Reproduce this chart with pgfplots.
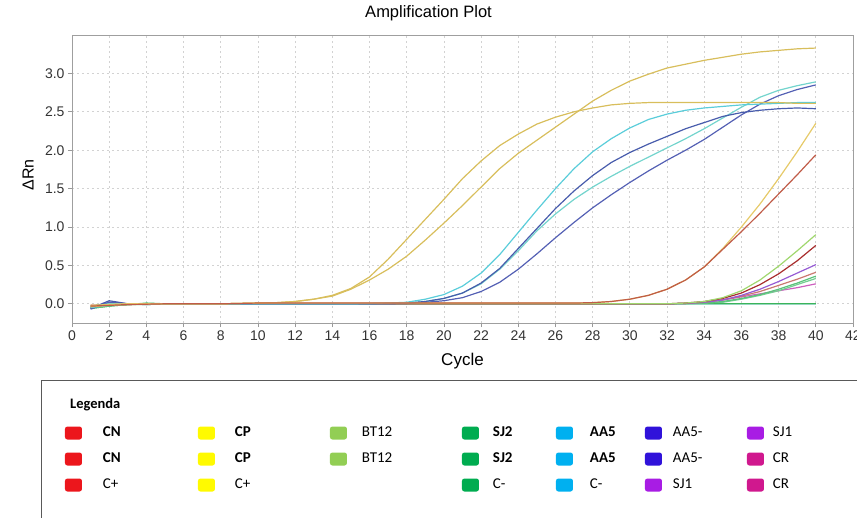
\documentclass[border=0pt]{standalone}
\usepackage{fontspec}
\setmainfont{Liberation Sans}
\newfontfamily\carlito{Carlito}
\usepackage{pgfplots}
\usepackage{pgfplotstable}
\pgfplotsset{compat=1.18}

\definecolor{cpgold}{RGB}{216,190,92}
\definecolor{lgold}{RGB}{230,202,105}
\definecolor{lred}{RGB}{192,92,72}
\definecolor{cyA}{RGB}{90,205,218}
\definecolor{cyB}{RGB}{115,212,205}
\definecolor{dbA}{RGB}{72,92,172}
\definecolor{dbB}{RGB}{84,96,180}
\definecolor{btc}{RGB}{160,215,110}
\definecolor{cnc}{RGB}{168,45,45}
\definecolor{sjoc}{RGB}{150,92,212}
\definecolor{crAc}{RGB}{202,120,112}
\definecolor{sjAc}{RGB}{90,195,122}
\definecolor{sjBc}{RGB}{115,205,145}
\definecolor{crBc}{RGB}{205,95,190}
\definecolor{cgc}{RGB}{60,180,90}
\definecolor{ccc}{RGB}{100,200,232}
% legend colours
\definecolor{LGred}{RGB}{236,22,28}
\definecolor{LGyel}{RGB}{255,250,0}
\definecolor{LGbt}{RGB}{146,206,84}
\definecolor{LGsj}{RGB}{0,172,80}
\definecolor{LGaa}{RGB}{0,176,240}
\definecolor{LGam}{RGB}{48,18,218}
\definecolor{LGsjo}{RGB}{168,28,228}
\definecolor{LGcr}{RGB}{208,24,142}

\pgfplotstableread{
c cpA cpB aA aB amA amB lg lr bt cn sjo crA sjA sjB crB cg cc
1 -0.03 -0.04 -0.05 -0.03 -0.06 -0.07 -0.02 -0.03 -0.03 -0.02 -0.05 -0.04 -0.06 -0.05 -0.04 -0.06 -0.05
2 -0.01 -0.02 -0.02 0.00 0.04 0.02 -0.01 -0.02 0.00 -0.01 0.02 0.00 -0.03 -0.02 0.01 -0.03 -0.01
3 0.00 -0.01 -0.01 0.00 0.00 0.00 0.00 -0.01 0.00 -0.01 0.00 -0.01 -0.01 -0.01 0.00 -0.01 0.00
4 0 0 0 0 -0.01 0 0 -0.005 0 0 0 0 0.01 0.005 0 -0.01 0
5 0 0 0 0 0 0 0 0 0 0 0 0 0 0 0 0 0
6 0 0 0 0 0 0 0 0 0 0 0 0 0 0 0 0 0
7 0 0 0 0 0 0 0 0 0 0 0 0 0 0 0 0 0
8 0 0 0 0 0 0 0 0 0 0 0 0 0 0 0 0 0
9 0.005 0.005 0 0 0 0 0.005 0.005 0 0 0 0 0 0 0 0 0
10 0.01 0.01 0 0 0 0 0.01 0.01 0 0 0 0 0 0 0 0 0
11 0.015 0.015 0 0 0 0 0.01 0.01 0 0 0 0 0 0 0 0 0
12 0.03 0.03 0 0 0 0 0.01 0.01 0 0 0 0 0 0 0 0 0
13 0.06 0.06 0 0 0 0 0.01 0.01 0 0 0 0 0 0 0 0 0
14 0.11 0.10 0 0 0 0 0.01 0.01 0 0 0 0 0 0 0 0 0
15 0.20 0.19 0 0 0 0 0.01 0.01 0 0 0 0 0 0 0 0 0
16 0.35 0.31 0.005 0 0 0 0.01 0.01 0 0 0 0 0 0 0 0 0
17 0.58 0.45 0.01 0.005 0.005 0 0.01 0.01 0 0 0 0 0 0 0 0 0
18 0.84 0.62 0.02 0.01 0.01 0.005 0.01 0.01 0 0 0 0 0 0 0 0 0
19 1.10 0.83 0.06 0.03 0.03 0.02 0.01 0.01 0 0 0 0 0 0 0 0 0
20 1.36 1.05 0.12 0.07 0.07 0.04 0.01 0.01 0 0 0 0 0 0 0 0 0
21 1.63 1.28 0.23 0.14 0.14 0.08 0.01 0.01 0 0 0 0 0 0 0 0 0
22 1.86 1.52 0.40 0.26 0.27 0.16 0.01 0.01 0 0 0 0 0 0 0 0 0
23 2.06 1.76 0.64 0.45 0.46 0.28 0.01 0.01 0 0 0 0 0 0 0 0 0
24 2.21 1.96 0.93 0.69 0.72 0.45 0.01 0.01 0 0 0 0 0 0 0 0 0
25 2.34 2.13 1.22 0.95 0.98 0.65 0.01 0.01 0 0 0 0 0 0 0 0 0
26 2.43 2.30 1.50 1.17 1.24 0.86 0.01 0.01 0 0 0 0 0 0 0 0 0
27 2.50 2.47 1.76 1.36 1.47 1.06 0.01 0.01 0 0 0 0 0 0 0 0 0
28 2.55 2.64 1.98 1.52 1.67 1.25 0.015 0.015 0 0 0 0 0 0 0 0 0
29 2.59 2.78 2.15 1.66 1.84 1.42 0.03 0.03 0 0 0 0 0 0 0 0 0
30 2.61 2.90 2.29 1.79 1.97 1.58 0.06 0.06 0 0 0 0 0 0 0 0 0
31 2.62 2.99 2.40 1.91 2.08 1.73 0.11 0.11 0 0 0 0 0 0 0 0 0
32 2.62 3.07 2.47 2.03 2.18 1.87 0.19 0.19 0 0 0 0 0 0 0 0 0
33 2.62 3.12 2.52 2.15 2.28 2.00 0.31 0.31 0.01 0.01 0.005 0.005 0.005 0 0.005 0 0
34 2.62 3.17 2.55 2.28 2.36 2.14 0.48 0.48 0.03 0.03 0.02 0.02 0.01 0.01 0.02 0 0
35 2.62 3.21 2.57 2.42 2.44 2.30 0.72 0.71 0.08 0.07 0.05 0.05 0.03 0.02 0.05 0 0
36 2.62 3.25 2.59 2.56 2.49 2.46 1.00 0.94 0.17 0.14 0.11 0.10 0.07 0.06 0.09 0 0
37 2.62 3.28 2.60 2.69 2.52 2.60 1.30 1.18 0.31 0.25 0.19 0.16 0.12 0.11 0.13 0 0
38 2.62 3.30 2.61 2.78 2.54 2.71 1.63 1.43 0.49 0.39 0.29 0.24 0.19 0.17 0.17 0 0
39 2.61 3.32 2.62 2.84 2.55 2.79 1.98 1.68 0.69 0.56 0.40 0.32 0.27 0.25 0.21 0 0
40 2.61 3.33 2.62 2.89 2.54 2.85 2.35 1.94 0.90 0.76 0.51 0.41 0.36 0.33 0.26 0 0
}\data

\pgfplotsset{
  sq/.style 2 args={legend image code/.code={%
      \fill[#1, draw=none, rounded corners=2.5pt] (0pt,-6.5pt) rectangle (17pt,6.5pt);
      \path[draw=none, fill=none] (0pt,0pt) -- (#2,0pt);}},
  crv/.style={forget plot, line width=1.2pt, #1},
}

\begin{document}
\begin{tikzpicture}
\begin{axis}[
  name=ax,
  scale only axis,
  width=781pt, height=288pt,
  xmin=0, xmax=42, ymin=-0.25, ymax=3.5,
  xtick={0,2,...,42},
  ytick={0,0.5,1,1.5,2,2.5,3},
  yticklabel style={/pgf/number format/.cd, fixed, fixed zerofill, precision=1},
  /pgf/number format/assume math mode=true,
  tick label style={font=\fontsize{14}{16}\selectfont, text=black!80},
  tick align=outside,
  major tick length=4pt,
  tick style={gray!80, line width=0.8pt},
  xtick pos=bottom, ytick pos=left,
  axis line style={gray!75, line width=0.9pt},
  grid=major,
  major grid style={gray!35, line width=0.8pt, dash pattern=on 2pt off 3pt},
  title={Amplification Plot},
  title style={at={(0.4565,1)}, anchor=base, yshift=11pt, font=\fontsize{16.5}{19}\selectfont},
  xlabel={Cycle},
  xlabel style={at={(axis description cs:0.5,0)}, anchor=base, yshift=-42pt, font=\fontsize{17}{20}\selectfont},
  ylabel={ΔRn},
  ylabel style={at={(axis description cs:-0.0563,0.514)}, anchor=center, font=\fontsize{16}{19}\selectfont},
  legend columns=7,
  legend cell align=left,
  legend style={at={(-0.009,-0.3594)}, anchor=north west, draw=none, fill=none,
    inner sep=0pt, outer sep=0pt, row sep=13pt, column sep=0pt,
    nodes={inner sep=0pt, text height=9.5pt, text depth=2.5pt, font=\carlito\fontsize{15}{17}\selectfont}},
]
\addplot[crv=ccc] table[x=c,y=cc]{\data};
\addplot[crv=cgc] table[x=c,y=cg]{\data};
\addplot[crv=crBc] table[x=c,y=crB]{\data};
\addplot[crv=sjBc] table[x=c,y=sjB]{\data};
\addplot[crv=sjAc] table[x=c,y=sjA]{\data};
\addplot[crv=crAc] table[x=c,y=crA]{\data};
\addplot[crv=sjoc] table[x=c,y=sjo]{\data};
\addplot[crv=cnc] table[x=c,y=cn]{\data};
\addplot[crv=btc] table[x=c,y=bt]{\data};
\addplot[crv=dbB] table[x=c,y=amB]{\data};
\addplot[crv=cyB] table[x=c,y=aB]{\data};
\addplot[crv=dbA] table[x=c,y=amA]{\data};
\addplot[crv=cyA] table[x=c,y=aA]{\data};
\addplot[crv=cpgold] table[x=c,y=cpB]{\data};
\addplot[crv=cpgold] table[x=c,y=cpA]{\data};
\addplot[crv=lgold] table[x=c,y=lg]{\data};
\addplot[crv=lred] table[x=c,y=lr]{\data};

% legend, row 1
\addlegendimage{sq={LGred}{38pt}}\addlegendentry{\makebox[95pt][l]{\bfseries CN}}
\addlegendimage{sq={LGyel}{37pt}}\addlegendentry{\makebox[95pt][l]{\bfseries CP}}
\addlegendimage{sq={LGbt}{32pt}}\addlegendentry{\makebox[100pt][l]{BT12}}
\addlegendimage{sq={LGsj}{31pt}}\addlegendentry{\makebox[63pt][l]{\bfseries SJ2}}
\addlegendimage{sq={LGaa}{34pt}}\addlegendentry{\makebox[55pt][l]{\bfseries AA5}}
\addlegendimage{sq={LGam}{28pt}}\addlegendentry{\makebox[74pt][l]{AA5-}}
\addlegendimage{sq={LGsjo}{26pt}}\addlegendentry{\makebox[50pt][l]{SJ1}}
% row 2
\addlegendimage{sq={LGred}{38pt}}\addlegendentry{\makebox[95pt][l]{\bfseries CN}}
\addlegendimage{sq={LGyel}{37pt}}\addlegendentry{\makebox[95pt][l]{\bfseries CP}}
\addlegendimage{sq={LGbt}{32pt}}\addlegendentry{\makebox[100pt][l]{BT12}}
\addlegendimage{sq={LGsj}{31pt}}\addlegendentry{\makebox[63pt][l]{\bfseries SJ2}}
\addlegendimage{sq={LGaa}{34pt}}\addlegendentry{\makebox[55pt][l]{\bfseries AA5}}
\addlegendimage{sq={LGam}{28pt}}\addlegendentry{\makebox[74pt][l]{AA5-}}
\addlegendimage{sq={LGcr}{26pt}}\addlegendentry{\makebox[50pt][l]{CR}}
% row 3
\addlegendimage{sq={LGred}{38pt}}\addlegendentry{\makebox[95pt][l]{C+}}
\addlegendimage{sq={LGyel}{37pt}}\addlegendentry{\makebox[95pt][l]{C+}}
\addlegendimage{sq={white}{32pt}}\addlegendentry{\makebox[100pt][l]{}}
\addlegendimage{sq={LGsj}{31pt}}\addlegendentry{\makebox[63pt][l]{C-}}
\addlegendimage{sq={LGaa}{34pt}}\addlegendentry{\makebox[55pt][l]{C-}}
\addlegendimage{sq={LGsjo}{28pt}}\addlegendentry{\makebox[74pt][l]{SJ1}}
\addlegendimage{sq={LGcr}{26pt}}\addlegendentry{\makebox[50pt][l]{CR}}
\end{axis}
% legend frame and heading
\draw[black!65, line width=1pt] ([shift={(-30pt,-57pt)}]ax.south west) rectangle ([shift={(805pt,-230pt)}]ax.south west);
\node[anchor=west, inner sep=0pt, font=\carlito\bfseries\fontsize{14.5}{17}\selectfont] at ([shift={(-2pt,-82pt)}]ax.south west) {Legenda};
\pgfresetboundingbox
\path[use as bounding box] ([shift={(-72pt,-194pt)}]ax.south west) rectangle ([shift={(785pt,323pt)}]ax.south west);
\end{tikzpicture}
\end{document}
